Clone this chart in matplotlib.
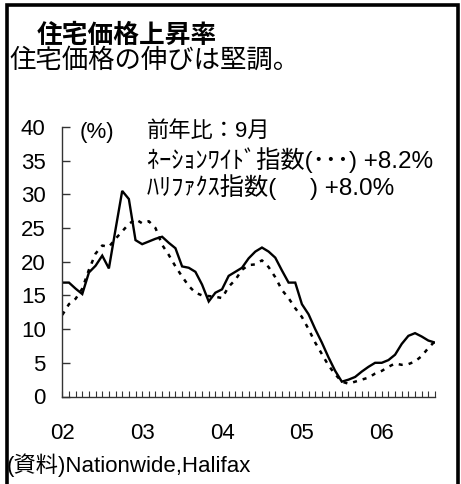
import matplotlib
matplotlib.use("Agg")
import matplotlib.pyplot as plt
from matplotlib.patches import Rectangle
from matplotlib.ticker import FixedLocator, MultipleLocator, NullFormatter

plt.rcParams['font.family'] = ['Liberation Sans', 'Noto Sans CJK JP', 'DejaVu Sans']

# Monthly data Jan 2002 .. Sep 2006 (year-on-year %)
halifax = [16.9, 16.9, 16.0, 15.2, 18.4, 19.4, 20.9, 19.0, 24.8, 30.5,
           29.3, 23.2, 22.6, 23.0, 23.4, 23.7, 22.8, 22.0, 19.3, 19.1,
           18.5, 16.6, 14.1, 15.4, 15.9, 17.9, 18.5, 19.1, 20.5, 21.5,
           22.1, 21.5, 20.6, 18.7, 16.9, 16.9, 13.7, 12.2, 10.0, 8.0,
           5.8, 3.8, 2.2, 2.5, 2.9, 3.7, 4.4, 5.0, 5.0, 5.4,
           6.2, 7.8, 9.0, 9.4, 8.9, 8.3, 8.0]
nationwide = [12.1, 13.7, 14.5, 16.0, 18.8, 21.2, 22.4, 22.2, 23.4, 24.5,
              25.6, 26.3, 25.7, 26.0, 25.0, 22.5, 21.0, 19.3, 17.8, 16.4,
              15.4, 15.0, 14.9, 14.8, 14.6, 16.3, 17.3, 18.8, 19.5, 19.6,
              20.2, 19.2, 17.7, 15.8, 14.6, 13.1, 11.8, 10.0, 8.0, 6.3,
              4.6, 3.3, 2.2, 1.9, 2.2, 2.5, 2.8, 3.4, 3.8, 4.4,
              4.9, 4.7, 4.8, 5.2, 6.0, 7.2, 8.2]
year_labels = ["02", "03", "04", "05", "06"]
yticks = [0, 5, 10, 15, 20, 25, 30, 35, 40]

W, H = 461, 484
fig = plt.figure(figsize=(W / 100, H / 100), dpi=100)

def fx(x):
    return x / W

def fy(y):
    return 1 - y / H

ax_l, ax_r, ax_t, ax_b = 62.3, 435.0, 126.9, 396.5
ax = fig.add_axes([fx(ax_l), fy(ax_b), fx(ax_r - ax_l), (ax_b - ax_t) / H])

months = list(range(len(halifax)))
ax.plot(months, halifax, color='black', lw=1.7, solid_joinstyle='miter')
ax.plot(months, nationwide, color='black', lw=1.8, linestyle=(0, (1.6, 2.4)))

ax.set_xlim(0, len(halifax) - 1)
ax.set_ylim(0, 40)
for s in ['top', 'right']:
    ax.spines[s].set_visible(False)
for s in ['left', 'bottom']:
    ax.spines[s].set_linewidth(1.0)
    ax.spines[s].set_color('#333333')

ax.set_yticks(yticks)
ax.set_yticklabels([str(v) for v in yticks])
ax.tick_params(axis='y', direction='in', length=6, width=1, color='#333333',
               labelsize=16, pad=12)
ax.xaxis.set_major_locator(FixedLocator([12 * i for i in range(len(year_labels))]))
ax.set_xticklabels(year_labels)
ax.xaxis.set_minor_locator(MultipleLocator(1))
ax.xaxis.set_minor_formatter(NullFormatter())
ax.tick_params(axis='x', which='both', direction='in', length=4.5, width=0.8,
               color='#333333', labelsize=16, pad=19)

# Texts
fig.text(fx(37), fy(36), "住宅価格上昇率", fontsize=18.5, fontweight='bold',
         va='center', ha='left')
fig.text(fx(9), fy(61), "住宅価格の伸びは堅調。", fontsize=19, va='center', ha='left')
fig.text(fx(80), fy(133), "(%)", fontsize=16, va='center', ha='left')
fig.text(fx(147), fy(131), "前年比：9月", fontsize=16, va='center', ha='left')
fig.text(fx(147), fy(160), "ﾈｰｼｮﾝﾜｲﾄﾞ指数(･･･) +8.2%", fontsize=17.5, va='center', ha='left')
fig.text(fx(147), fy(187), "ﾊﾘﾌｧｸｽ指数(     ) +8.0%", fontsize=17.5, va='center', ha='left')
fig.text(fx(7), fy(465), "(資料)Nationwide,Halifax", fontsize=16, va='center', ha='left')

# Frame
fig.patches.append(Rectangle((fx(6.5), fy(500)), fx(458 - 6.5), (500 - 5.5) / H,
                             transform=fig.transFigure, fill=False,
                             edgecolor='black', lw=2.6))

fig.savefig("out.png", dpi=100)
